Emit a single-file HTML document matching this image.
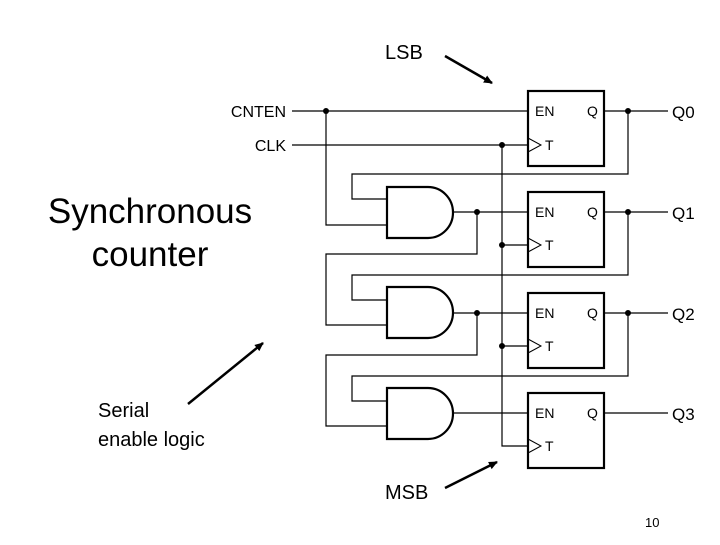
<!DOCTYPE html><html><head><style>body{margin:0;background:#fff}</style></head><body>
<svg width="720" height="540" xmlns="http://www.w3.org/2000/svg" font-family="Liberation Sans, sans-serif">
<defs><marker id="a" markerWidth="10" markerHeight="10" refX="8" refY="5" orient="auto" markerUnits="userSpaceOnUse"><path d="M0,1 L9,5 L0,9 z" fill="#000"/></marker></defs>
<g fill="none" stroke="#000" stroke-width="1.2">
<path d="M292,111H528M292,145H528M502,145V446H528M502,245H528M502,346H528"/>
<path d="M326,111V225H387M628,111V174H352V199H387"/>
<path d="M453,212H528M477,212V254H326V325H387M628,212V275H352V300H387"/>
<path d="M453,313H528M477,313V355H326V426H387M628,313V376H352V401H387"/>
<path d="M453,413H528"/>
<path d="M604,111H668M604,212H668M604,313H668M604,413H668"/>
</g>
<g fill="none" stroke="#000" stroke-width="2.2">
<rect x="528" y="91" width="76" height="75"/><rect x="528" y="192" width="76" height="75"/>
<rect x="528" y="293" width="76" height="75"/><rect x="528" y="393" width="76" height="75"/>
<path d="M387,187H428A25,25.5 0 0 1 428,238H387Z"/>
<path d="M387,287H428A25,25.5 0 0 1 428,338H387Z"/>
<path d="M387,388H428A25,25.5 0 0 1 428,439H387Z"/>
</g>
<g fill="none" stroke="#000" stroke-width="1"><path d="M528,138L541,145L528,152M528,238L541,245L528,252M528,339L541,346L528,353M528,439L541,446L528,453"/></g>
<g fill="#000"><circle cx="326" cy="111" r="3"/><circle cx="502" cy="145" r="3"/><circle cx="628" cy="111" r="3"/>
<circle cx="477" cy="212" r="3"/><circle cx="502" cy="245" r="3"/><circle cx="628" cy="212" r="3"/>
<circle cx="477" cy="313" r="3"/><circle cx="502" cy="346" r="3"/><circle cx="628" cy="313" r="3"/></g>
<g font-size="16" fill="#000">
<text x="286" y="117" text-anchor="end">CNTEN</text><text x="286" y="151" text-anchor="end">CLK</text>
<text x="672" y="118" font-size="17">Q0</text><text x="672" y="219" font-size="17">Q1</text><text x="672" y="320" font-size="17">Q2</text><text x="672" y="420" font-size="17">Q3</text>
</g>
<g font-size="14" fill="#000">
<text x="535" y="116">EN</text><text x="587" y="116">Q</text><text x="545" y="150">T</text>
<text x="535" y="217">EN</text><text x="587" y="217">Q</text><text x="545" y="250">T</text>
<text x="535" y="318">EN</text><text x="587" y="318">Q</text><text x="545" y="351">T</text>
<text x="535" y="418">EN</text><text x="587" y="418">Q</text><text x="545" y="451">T</text>
</g>
<g fill="#000" font-size="20">
<text x="385" y="59">LSB</text><text x="385" y="499">MSB</text>
<text x="98" y="417">Serial</text><text x="98" y="446">enable logic</text>
</g>
<text x="150" y="223" font-size="35" text-anchor="middle">Synchronous</text>
<text x="150" y="266" font-size="35" text-anchor="middle">counter</text>
<text x="645" y="527" font-size="13">10</text>
<g stroke="#000" stroke-width="2.5" marker-end="url(#a)">
<line x1="445" y1="56" x2="492" y2="83"/><line x1="188" y1="404" x2="263" y2="343"/><line x1="445" y1="488" x2="497" y2="462"/>
</g>
</svg></body></html>
